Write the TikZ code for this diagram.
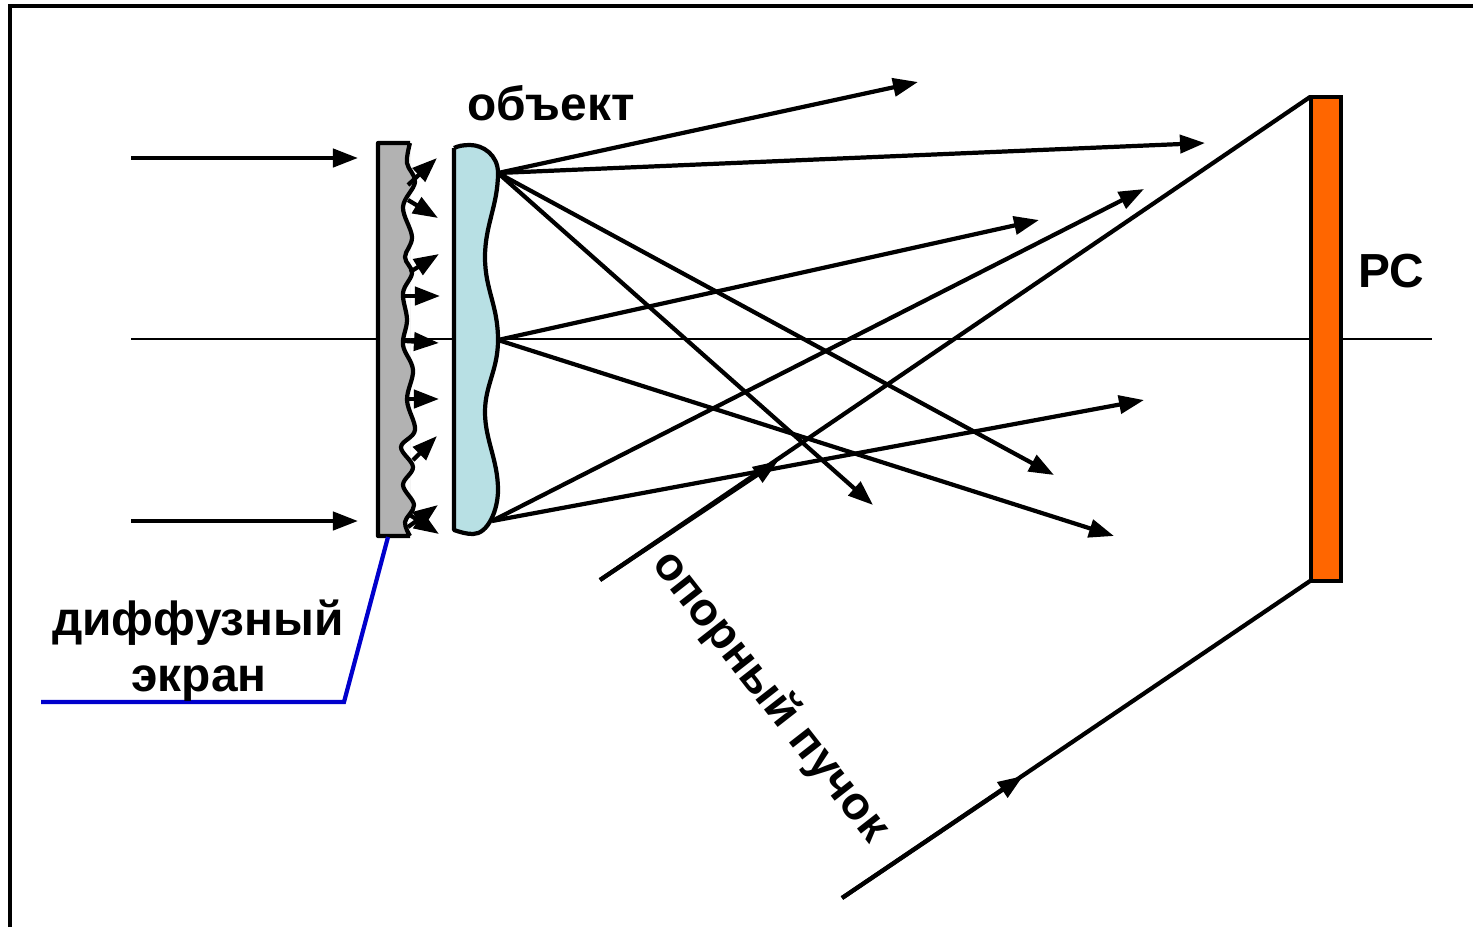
\documentclass[tikz,border=0pt]{standalone}
\usepackage{fontspec}
\setmainfont{Liberation Sans}
\usetikzlibrary{arrows.meta}
\definecolor{screen_gray}{RGB}{178,178,178}
\definecolor{object_blue}{RGB}{184,224,228}
\definecolor{rs_orange}{RGB}{255,102,0}
\definecolor{leader_blue}{RGB}{0,0,204}
\begin{document}
\begin{tikzpicture}[x=0.01cm, y=-0.01cm]
    \tikzstyle{ray_style}=[line width=1.2pt, -{Triangle[length=2.5mm, width=1.8mm]}]
    \tikzstyle{line_style}=[line width=1.2pt]
    \tikzstyle{label_style}=[font=\fontsize{13.6pt}{16pt}\selectfont\bfseries, inner sep=0pt]
    \useasboundingbox (0,0) rectangle (1473,927);

    % frame
    \coordinate (frame_a) at (10,927);
    \coordinate (frame_b) at (10,6);
    \coordinate (frame_c) at (1473,6);
    \draw[line width=1.4pt] (frame_a) -- (frame_b) -- (frame_c);

    % axis
    \coordinate (axis_a) at (131,339);
    \coordinate (axis_b) at (1432,339);
    \draw[line width=0.4pt] (axis_a) -- (axis_b);

    % diffuse screen
    \draw[line_style, line join=round, fill=screen_gray] (410,143) -- (378,143) -- (378,536) -- (410,536)
      plot[smooth, tension=0.6] coordinates {(410,536) (405,522) (414,505) (403,485) (413,467) (401,447) (415,430)
        (407,400) (413,370) (403,345) (407,320) (403,293) (412,273) (405,257) (412,237) (403,207) (415,182)
        (407,163) (410,143)};

    % object
    \draw[line_style, line join=round, fill=object_blue] (454,148) -- (454,530)
      .. controls (460,532) and (466,534) .. (473,534)
      .. controls (488,534) and (498,510) .. (498,490)
      .. controls (498,460) and (485,440) .. (485,412)
      .. controls (485,385) and (498,370) .. (498,340)
      .. controls (498,305) and (485,290) .. (485,257)
      .. controls (485,225) and (498,205) .. (498,173)
      .. controls (498,155) and (483,145) .. (470,145)
      .. controls (463,145) and (458,146) .. (454,148);

    % RS plate
    \node at (1326,339) [draw, line width=1.2pt, fill=rs_orange, minimum width=0.30cm, minimum height=4.84cm, inner sep=0pt] (plate) {};

    % incoming beams
    \foreach \i/\y in {1/158,2/521} {
      \coordinate (in_a_\i) at (131,\y);
      \coordinate (in_b_\i) at (358,\y);
      \draw[ray_style] (in_a_\i) -- (in_b_\i);
    }

    % scattered at the screen
    \foreach \i/\xa/\ya/\xb/\yb in {1/408/185/437/158, 2/408/200/438/218, 3/410/272/439/254, 4/403/296/440/296,
        5/405/341/439/343, 6/408/399/439/399, 7/413/460/437/436, 8/408/527/438/505, 9/410/515/439/534} {
      \coordinate (scatter_a_\i) at (\xa,\ya);
      \coordinate (scatter_b_\i) at (\xb,\yb);
      \draw[ray_style] (scatter_a_\i) -- (scatter_b_\i);
    }

    % rays from the object
    \coordinate (source_1) at (498,173);
    \coordinate (source_2) at (498,340);
    \coordinate (source_3) at (492,521);
    \foreach \i/\s/\x/\y in {1/1/918/82, 2/1/1205/143, 3/1/1054/475, 4/1/873/505, 5/2/1039/220, 6/2/1114/536,
        7/3/1144/189, 8/3/1144/400} {
      \coordinate (ray_end_\i) at (\x,\y);
      \draw[ray_style] (source_\s) -- (ray_end_\i);
    }

    % reference beam
    \coordinate (ref_a) at (600,580);
    \coordinate (ref_b) at (778,461);
    \coordinate (ref_c) at (1310,97);
    \coordinate (ref_d) at (842,898);
    \coordinate (ref_e) at (1023,776);
    \coordinate (ref_f) at (1310,581);
    \draw[line_style] (ref_a) -- (ref_c);
    \draw[ray_style] (ref_a) -- (ref_b);
    \draw[line_style] (ref_d) -- (ref_f);
    \draw[ray_style] (ref_d) -- (ref_e);

    % leader
    \coordinate (leader_a) at (41,702);
    \coordinate (leader_b) at (344,702);
    \coordinate (leader_c) at (388,537);
    \draw[line width=1.2pt, leader_blue] (leader_a) -- (leader_b) -- (leader_c);

    % labels
    \node at (551,103) [label_style] (object_label) {объект};
    \node at (1391,271) [label_style] (rs_label) {РС};
    \node at (198,623) [label_style] (screen_label_a) {диффузный};
    \node at (199,684) [label_style] (screen_label_b) {экран};
    \node at (770,697) [label_style, font=\fontsize{13.2pt}{16pt}\selectfont\bfseries, rotate=-52] (beam_label) {опорный пучок};
\end{tikzpicture}
\end{document}
